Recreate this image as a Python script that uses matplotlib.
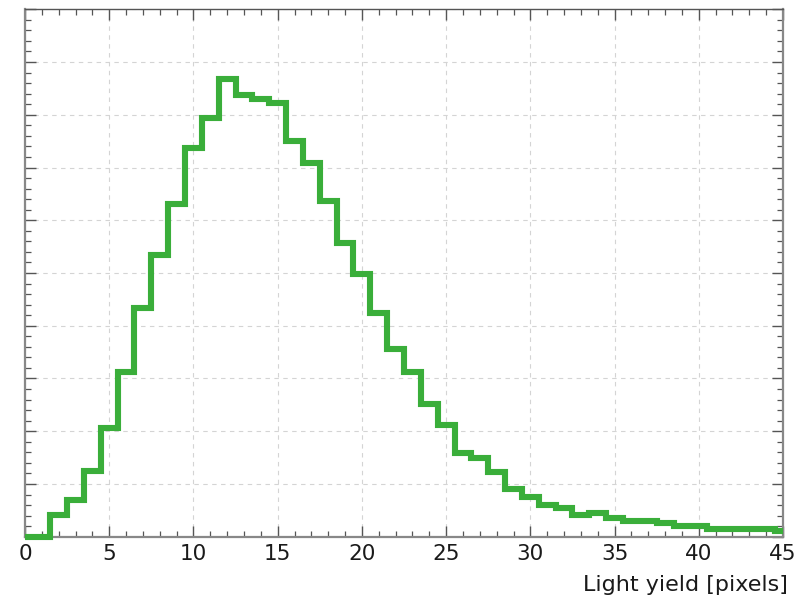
import numpy as np
import matplotlib
matplotlib.use("Agg")
import matplotlib.pyplot as plt
from matplotlib.ticker import MultipleLocator, NullFormatter

# Light-yield distribution, one bin per pixel count
light_yield = np.arange(0, 46)
entries = [0, 0, 0.41, 0.70, 1.25, 2.06, 3.12, 4.33, 5.35, 6.31,
           7.37, 7.93, 8.68, 8.38, 8.30, 8.22, 7.51, 7.08, 6.36, 5.57,
           4.98, 4.24, 3.56, 3.12, 2.52, 2.11, 1.59, 1.50, 1.22, 0.905,
           0.76, 0.60, 0.55, 0.41, 0.44, 0.35, 0.30, 0.30, 0.26, 0.20,
           0.20, 0.15, 0.15, 0.15, 0.15, 0.10]
x_ticks = [0, 5, 10, 15, 20, 25, 30, 35, 40, 45]
x_label = "Light yield [pixels]"

x_min, x_max = 0, 45
y_min, y_max = 0, 10

fig = plt.figure(figsize=(7.96, 5.99), dpi=100)
ax = fig.add_axes([0.0314, 0.104, 0.9523, 0.8805])

edges = np.concatenate([light_yield - 0.5, [light_yield[-1] + 0.5]])
edges = np.clip(edges, x_min, x_max)
ax.stairs(entries, edges, color="#3aae3a", linewidth=4.4,
          baseline=None, clip_on=False, zorder=5)

ax.set_xlim(x_min, x_max)
ax.set_ylim(y_min, y_max)

ax.set_xticks(x_ticks)
ax.xaxis.set_minor_locator(MultipleLocator(1))
ax.yaxis.set_major_locator(MultipleLocator(1))
ax.yaxis.set_minor_locator(MultipleLocator(0.2))
ax.yaxis.set_major_formatter(NullFormatter())

ax.grid(True, which="major", color="#d4d4d4", linestyle=(0, (4, 4)), linewidth=0.8)
ax.set_axisbelow(True)

ax.tick_params(which="both", direction="in", top=True, right=True,
               colors="#555555", labelcolor="#1a1a1a", labelsize=15.5, pad=5)
ax.tick_params(which="major", length=8, width=1.0)
ax.tick_params(which="minor", length=4.5, width=0.9)

for side in ["left", "bottom", "right"]:
    ax.spines[side].set_color("#888888")
    ax.spines[side].set_linewidth(1.6)
ax.spines["top"].set_color("#555555")
ax.spines["top"].set_linewidth(1.0)

ax.set_xlabel(x_label, fontsize=16, color="#1a1a1a", loc="right", labelpad=8)
ax.xaxis.label.set_x(1.007)

fig.savefig("out.png", dpi=100)
